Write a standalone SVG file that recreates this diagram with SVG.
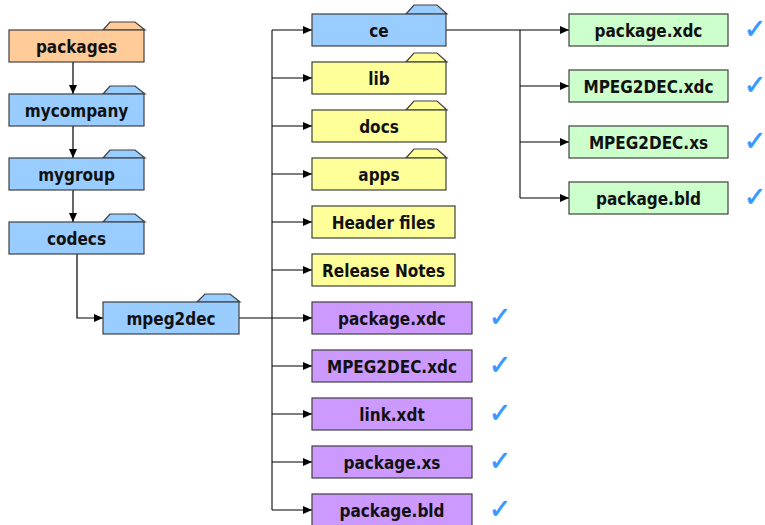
<svg xmlns="http://www.w3.org/2000/svg" width="765" height="525" viewBox="0 0 765 525">
<style>
.box{stroke:#404040;stroke-width:1.2}
.org{fill:#FFCC99}.blu{fill:#99CCFF}.yel{fill:#FFFF99}.pur{fill:#CC99FF}.grn{fill:#CCFFCC}
.lbl{font-family:"DejaVu Sans Condensed","DejaVu Sans",sans-serif;font-stretch:condensed;font-weight:bold;font-size:17px;fill:#111;text-anchor:middle}
.chk{font-family:"DejaVu Sans",sans-serif;font-size:27px;fill:#3399FF;stroke:#3399FF;stroke-width:0.6;text-anchor:middle}
.ln{stroke:#000;stroke-width:1.2;fill:none}
.tr{stroke:#777;stroke-width:2;fill:none}
</style>
<defs>
<marker id="ah" markerWidth="9" markerHeight="8" refX="9" refY="4" orient="auto" markerUnits="userSpaceOnUse">
<path d="M0,0 L9,4 L0,8 Z" fill="#000"/>
</marker>
</defs>
<rect width="765" height="525" fill="#fff"/>
<g id="connectors">
<path class="ln" d="M73,62 V94" marker-end="url(#ah)"/>
<path class="ln" d="M73,126 V158" marker-end="url(#ah)"/>
<path class="ln" d="M73,190 V222" marker-end="url(#ah)"/>
<path class="ln" d="M77,254 V318 H103" marker-end="url(#ah)"/>
<path class="tr" d="M272,30 V510"/>
<path class="ln" d="M239,318 H312" marker-end="url(#ah)"/>
<path class="ln" d="M272,30 H312" marker-end="url(#ah)"/>
<path class="ln" d="M272,78 H312" marker-end="url(#ah)"/>
<path class="ln" d="M272,126 H312" marker-end="url(#ah)"/>
<path class="ln" d="M272,174 H312" marker-end="url(#ah)"/>
<path class="ln" d="M272,222 H312" marker-end="url(#ah)"/>
<path class="ln" d="M272,270 H312" marker-end="url(#ah)"/>
<path class="ln" d="M272,366 H312" marker-end="url(#ah)"/>
<path class="ln" d="M272,414 H312" marker-end="url(#ah)"/>
<path class="ln" d="M272,462 H312" marker-end="url(#ah)"/>
<path class="ln" d="M272,510 H312" marker-end="url(#ah)"/>
<path class="tr" d="M520,30 V198"/>
<path class="ln" d="M446,30 H569" marker-end="url(#ah)"/>
<path class="ln" d="M520,86 H569" marker-end="url(#ah)"/>
<path class="ln" d="M520,142 H569" marker-end="url(#ah)"/>
<path class="ln" d="M520,198 H569" marker-end="url(#ah)"/>
</g>
<g id="packages"><path class="box org" d="M103,30 L110,22 H135 L145,30 Z"/><rect class="box org" x="9" y="30" width="135" height="32"/><text class="lbl" x="76.5" y="53">packages</text></g>
<g id="mycompany"><path class="box blu" d="M103,94 L110,86 H135 L145,94 Z"/><rect class="box blu" x="9" y="94" width="135" height="32"/><text class="lbl" x="76.5" y="117">mycompany</text></g>
<g id="mygroup"><path class="box blu" d="M103,158 L110,150 H135 L145,158 Z"/><rect class="box blu" x="9" y="158" width="135" height="32"/><text class="lbl" x="76.5" y="181">mygroup</text></g>
<g id="codecs"><path class="box blu" d="M103,222 L110,214 H135 L145,222 Z"/><rect class="box blu" x="9" y="222" width="135" height="32"/><text class="lbl" x="76.5" y="245">codecs</text></g>
<g id="mpeg2dec"><path class="box blu" d="M197,302 L205,294 H230 L240,302 Z"/><rect class="box blu" x="103" y="302" width="136" height="32"/><text class="lbl" x="171" y="325">mpeg2dec</text></g>
<g id="ce"><path class="box blu" d="M406,14 L414,5 H437 L447,14 Z"/><rect class="box blu" x="312" y="14" width="134" height="32"/><text class="lbl" x="379" y="37">ce</text></g>
<g id="lib"><path class="box yel" d="M406,62 L414,53 H437 L447,62 Z"/><rect class="box yel" x="312" y="62" width="134" height="32"/><text class="lbl" x="379" y="85">lib</text></g>
<g id="docs"><path class="box yel" d="M406,110 L414,101 H437 L447,110 Z"/><rect class="box yel" x="312" y="110" width="134" height="32"/><text class="lbl" x="379" y="133">docs</text></g>
<g id="apps"><path class="box yel" d="M406,158 L414,149 H437 L447,158 Z"/><rect class="box yel" x="312" y="158" width="134" height="32"/><text class="lbl" x="379" y="181">apps</text></g>
<g id="header-files"><rect class="box yel" x="312" y="206" width="143" height="32"/><text class="lbl" x="383.5" y="229">Header files</text></g>
<g id="release-notes"><rect class="box yel" x="312" y="254" width="143" height="32"/><text class="lbl" x="383.5" y="277">Release Notes</text></g>
<g id="m-package-xdc"><rect class="box pur" x="312" y="302" width="160" height="32"/><text class="lbl" x="392" y="325">package.xdc</text><text class="chk" x="500" y="326">✓</text></g>
<g id="m-mpeg2dec-xdc"><rect class="box pur" x="312" y="350" width="160" height="32"/><text class="lbl" x="392" y="373">MPEG2DEC.xdc</text><text class="chk" x="500" y="374">✓</text></g>
<g id="m-link-xdt"><rect class="box pur" x="312" y="398" width="160" height="32"/><text class="lbl" x="392" y="421">link.xdt</text><text class="chk" x="500" y="422">✓</text></g>
<g id="m-package-xs"><rect class="box pur" x="312" y="446" width="160" height="32"/><text class="lbl" x="392" y="469">package.xs</text><text class="chk" x="500" y="470">✓</text></g>
<g id="m-package-bld"><rect class="box pur" x="312" y="494" width="160" height="32"/><text class="lbl" x="392" y="517">package.bld</text><text class="chk" x="500" y="518">✓</text></g>
<g id="ce-package-xdc"><rect class="box grn" x="569" y="14" width="159" height="32"/><text class="lbl" x="648.5" y="37">package.xdc</text><text class="chk" x="755" y="38">✓</text></g>
<g id="ce-mpeg2dec-xdc"><rect class="box grn" x="569" y="70" width="159" height="32"/><text class="lbl" x="648.5" y="93">MPEG2DEC.xdc</text><text class="chk" x="755" y="94">✓</text></g>
<g id="ce-mpeg2dec-xs"><rect class="box grn" x="569" y="126" width="159" height="32"/><text class="lbl" x="648.5" y="149">MPEG2DEC.xs</text><text class="chk" x="755" y="150">✓</text></g>
<g id="ce-package-bld"><rect class="box grn" x="569" y="182" width="159" height="32"/><text class="lbl" x="648.5" y="205">package.bld</text><text class="chk" x="755" y="206">✓</text></g>
</svg>
